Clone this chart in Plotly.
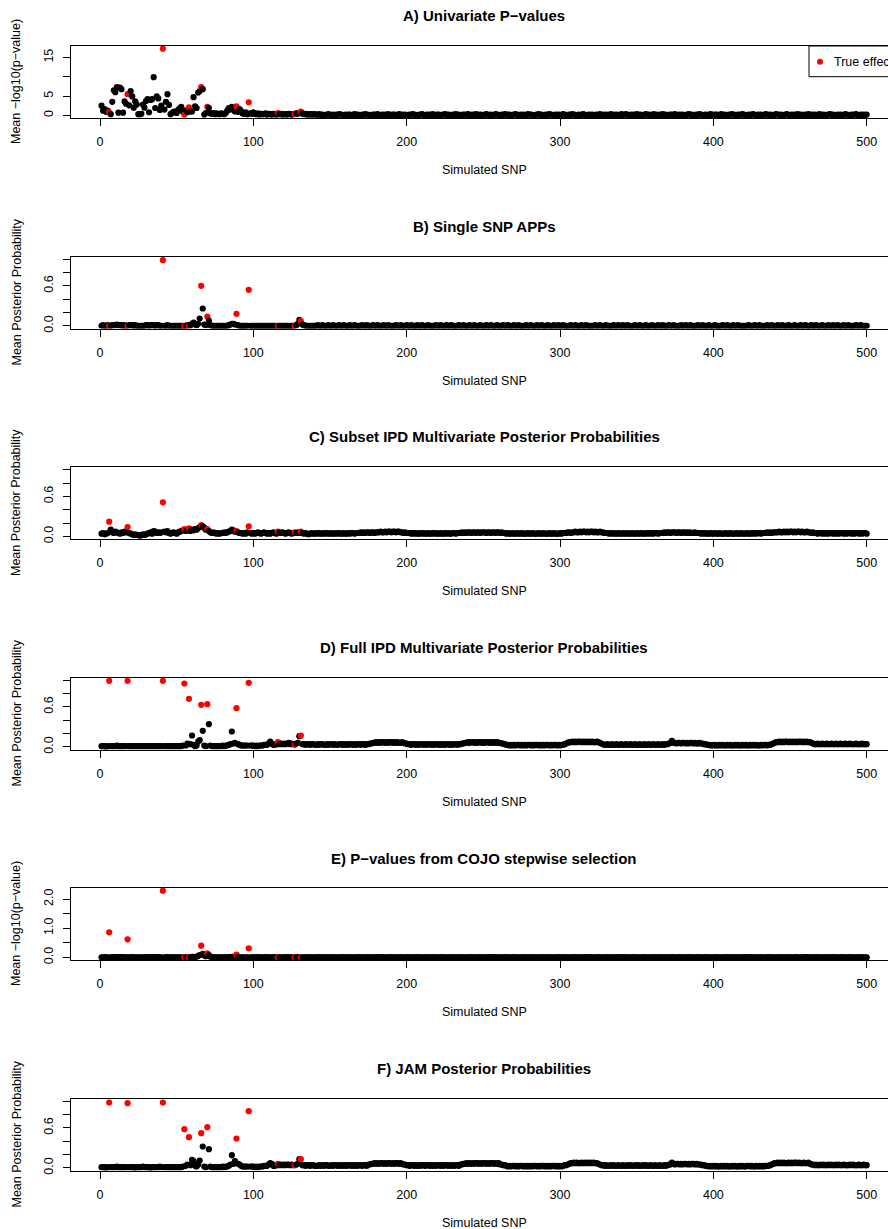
import plotly.graph_objects as go

# ---------------- data ----------------
true_effects = [6, 18, 41, 55, 58, 66, 70, 89, 97, 116, 127, 131]
x_ticks = [0, 100, 200, 300, 400, 500]
x_ticklabels = ["0", "100", "200", "300", "400", "500"]

panel_titles = [
    "A) Univariate P\u2212values",
    "B) Single SNP APPs",
    "C) Subset IPD Multivariate Posterior Probabilities",
    "D) Full IPD Multivariate Posterior Probabilities",
    "E) P\u2212values from COJO stepwise selection",
    "F) JAM Posterior Probabilities",
]
y_titles = [
    "Mean \u2212log10(p\u2212value)",
    "Mean Posterior Probability",
    "Mean Posterior Probability",
    "Mean Posterior Probability",
    "Mean \u2212log10(p\u2212value)",
    "Mean Posterior Probability",
]
y_tickvals = [
    [0, 5, 10, 15],
    [0, 0.2, 0.4, 0.6, 0.8, 1.0],
    [0, 0.2, 0.4, 0.6, 0.8, 1.0],
    [0, 0.2, 0.4, 0.6, 0.8, 1.0],
    [0, 0.5, 1.0, 1.5, 2.0],
    [0, 0.2, 0.4, 0.6, 0.8, 1.0],
]
y_ticktext = [
    ["0", "5", "", "15"],
    ["0.0", "", "", "0.6", "", ""],
    ["0.0", "", "", "0.6", "", ""],
    ["0.0", "", "", "0.6", "", ""],
    ["0.0", "", "1.0", "", "2.0"],
    ["0.0", "", "", "0.6", "", ""],
]

# A) univariate -log10(p), SNP 1-140 and 141-500
a_head = [
    2.5, 1.2, 1.6, 0.9, 1.2, 0.8, 0.3, 3.5, 6.5, 6.0, 7.3, 0.7, 7.2, 6.8, 0.7, 3.6, 3.0, 5.5, 2.6, 6.3,
    4.9, 2.0, 3.6, 2.8, 0.3, 0.3, 0.4, 2.8, 2.0, 3.7, 4.2, 0.8, 4.0, 4.2, 9.9, 1.9, 4.9, 4.4, 1.4, 2.5,
    17.3, 1.5, 3.5, 5.5, 2.7, 0.3, 0.6, 0.9, 1.0, 0.6, 1.4, 1.8, 2.2, 0.9, 0.2, 1.3, 0.8, 2.1, 1.0, 1.0,
    4.7, 2.3, 1.9, 5.9, 6.3, 7.3, 6.8, 0.2, 0.6, 2.2, 1.9, 0.5, 0.4, 0.6, 0.3, 0.5, 0.4, 0.3, 0.5, 0.4,
    0.3, 0.6, 1.2, 1.9, 1.5, 2.2, 1.8, 1.0, 2.3, 0.9, 1.6, 1.1, 0.5, 0.4, 0.8, 0.3, 3.4, 0.5, 0.4, 0.8,
    0.4, 0.3, 0.5, 0.2, 0.4, 0.3, 0.3, 0.5, 0.2, 0.4, 0.3, 0.2, 0.4, 0.3, 0.2, 0.6, 0.3, 0.4, 0.2, 0.3,
    0.3, 0.2, 0.4, 0.3, 0.2, 0.3, 0.4, 0.5, 0.4, 0.6, 1.0, 0.5, 0.3, 0.4, 0.2, 0.3, 0.2, 0.3, 0.2, 0.3,
]
a_tail = [
    0.2, 0.1, 0.3, 0.1, 0.2, 0.0, 0.1, 0.2, 0.3, 0.1, 0.1, 0.2, 0.0, 0.2, 0.1, 0.3, 0.2, 0.1, 0.0, 0.2,
    0.1, 0.2, 0.2, 0.0, 0.1, 0.3, 0.1, 0.2, 0.1, 0.0, 0.2, 0.1, 0.3, 0.2, 0.1, 0.1, 0.0, 0.2, 0.2, 0.1,
    0.3, 0.1, 0.0, 0.2, 0.1, 0.2, 0.1, 0.3, 0.0, 0.1, 0.2, 0.2, 0.1, 0.0, 0.3, 0.1, 0.2, 0.1, 0.2, 0.0,
    0.1, 0.2, 0.1, 0.3, 0.2, 0.0, 0.1, 0.1, 0.2, 0.3, 0.1, 0.0, 0.2, 0.1, 0.2, 0.1, 0.3, 0.0, 0.1, 0.2,
    0.2, 0.0, 0.1, 0.2, 0.3, 0.1, 0.2, 0.1, 0.0, 0.2, 0.1, 0.3, 0.1, 0.2, 0.0, 0.1, 0.2, 0.2, 0.1, 0.3,
    0.1, 0.1, 0.2, 0.0, 0.3, 0.2, 0.1, 0.2, 0.1, 0.0, 0.2, 0.3, 0.1, 0.1, 0.2, 0.0, 0.1, 0.3, 0.2, 0.1,
    0.0, 0.2, 0.1, 0.3, 0.1, 0.2, 0.2, 0.0, 0.1, 0.2, 0.3, 0.1, 0.0, 0.2, 0.1, 0.2, 0.1, 0.0, 0.3, 0.2,
    0.2, 0.1, 0.0, 0.1, 0.2, 0.3, 0.1, 0.2, 0.0, 0.1, 0.2, 0.1, 0.3, 0.2, 0.1, 0.0, 0.2, 0.1, 0.2, 0.1,
    0.1, 0.3, 0.2, 0.0, 0.1, 0.2, 0.1, 0.3, 0.2, 0.1, 0.0, 0.2, 0.1, 0.1, 0.3, 0.2, 0.0, 0.1, 0.2, 0.1,
    0.2, 0.0, 0.1, 0.2, 0.1, 0.3, 0.0, 0.2, 0.1, 0.2, 0.1, 0.0, 0.3, 0.1, 0.2, 0.1, 0.2, 0.0, 0.1, 0.3,
    0.1, 0.2, 0.3, 0.1, 0.0, 0.2, 0.1, 0.2, 0.0, 0.3, 0.1, 0.2, 0.1, 0.0, 0.2, 0.3, 0.1, 0.2, 0.1, 0.0,
    0.3, 0.1, 0.2, 0.0, 0.2, 0.1, 0.3, 0.1, 0.2, 0.0, 0.1, 0.2, 0.2, 0.1, 0.3, 0.0, 0.1, 0.2, 0.1, 0.2,
    0.0, 0.1, 0.2, 0.3, 0.1, 0.2, 0.0, 0.1, 0.2, 0.1, 0.3, 0.2, 0.0, 0.1, 0.2, 0.1, 0.0, 0.3, 0.2, 0.1,
    0.2, 0.2, 0.1, 0.0, 0.3, 0.1, 0.2, 0.1, 0.0, 0.2, 0.1, 0.3, 0.2, 0.1, 0.0, 0.2, 0.1, 0.2, 0.3, 0.1,
    0.1, 0.0, 0.2, 0.1, 0.2, 0.3, 0.1, 0.0, 0.2, 0.1, 0.2, 0.0, 0.1, 0.3, 0.2, 0.1, 0.2, 0.1, 0.0, 0.2,
    0.3, 0.2, 0.1, 0.2, 0.0, 0.1, 0.2, 0.3, 0.1, 0.0, 0.2, 0.1, 0.2, 0.1, 0.3, 0.0, 0.2, 0.1, 0.1, 0.2,
    0.1, 0.3, 0.0, 0.2, 0.1, 0.2, 0.1, 0.0, 0.3, 0.2, 0.1, 0.2, 0.0, 0.1, 0.2, 0.3, 0.1, 0.2, 0.1, 0.0,
    0.2, 0.1, 0.2, 0.0, 0.1, 0.3, 0.2, 0.1, 0.0, 0.2, 0.1, 0.2, 0.3, 0.1, 0.0, 0.2, 0.1, 0.2, 0.1, 0.2,
]

# B) single SNP approximate posterior probabilities
b_head = [
    0.00, 0.01, 0.00, 0.00, 0.01, 0.00, 0.00, 0.01, 0.01, 0.01, 0.02, 0.01, 0.01, 0.01, 0.00, 0.01, 0.00, 0.00, 0.01, 0.01,
    0.01, 0.00, 0.01, 0.00, 0.00, 0.00, 0.00, 0.00, 0.00, 0.01, 0.01, 0.00, 0.01, 0.01, 0.01, 0.00, 0.01, 0.01, 0.00, 0.00,
    0.985, 0.00, 0.00, 0.01, 0.00, 0.00, 0.00, 0.00, 0.00, 0.00, 0.00, 0.00, 0.00, 0.00, 0.00, 0.00, 0.01, 0.00, 0.01, 0.03,
    0.05, 0.02, 0.01, 0.03, 0.11, 0.60, 0.26, 0.02, 0.01, 0.14, 0.08, 0.01, 0.00, 0.00, 0.00, 0.00, 0.00, 0.00, 0.00, 0.00,
    0.00, 0.00, 0.00, 0.01, 0.02, 0.03, 0.03, 0.02, 0.18, 0.01, 0.00, 0.00, 0.00, 0.00, 0.00, 0.00, 0.54, 0.00, 0.00, 0.00,
    0.00, 0.00, 0.00, 0.00, 0.00, 0.00, 0.00, 0.00, 0.00, 0.00, 0.00, 0.00, 0.00, 0.00, 0.00, 0.00, 0.00, 0.00, 0.00, 0.00,
    0.00, 0.00, 0.00, 0.00, 0.00, 0.00, 0.00, 0.01, 0.03, 0.09, 0.07, 0.02, 0.01, 0.00, 0.00, 0.00, 0.00, 0.00, 0.00, 0.00,
]
b_tail = [
    0.00, 0.01, 0.00, 0.00, 0.01, 0.00, 0.00, 0.00, 0.01, 0.00, 0.00, 0.01, 0.00, 0.00, 0.00, 0.01, 0.00, 0.00, 0.01, 0.00,
    0.00, 0.00, 0.01, 0.00, 0.00, 0.01, 0.00, 0.00, 0.00, 0.00, 0.01, 0.00, 0.00, 0.01, 0.00, 0.00, 0.00, 0.01, 0.00, 0.00,
    0.01, 0.00, 0.00, 0.00, 0.01, 0.00, 0.00, 0.01, 0.00, 0.00, 0.00, 0.00, 0.01, 0.00, 0.00, 0.01, 0.00, 0.00, 0.00, 0.01,
    0.00, 0.00, 0.01, 0.00, 0.00, 0.00, 0.01, 0.00, 0.00, 0.01, 0.00, 0.00, 0.00, 0.01, 0.00, 0.00, 0.00, 0.00, 0.01, 0.00,
    0.00, 0.01, 0.00, 0.00, 0.00, 0.01, 0.00, 0.00, 0.01, 0.00, 0.00, 0.00, 0.00, 0.01, 0.00, 0.00, 0.01, 0.00, 0.00, 0.00,
    0.01, 0.00, 0.00, 0.01, 0.00, 0.00, 0.00, 0.01, 0.00, 0.00, 0.00, 0.01, 0.00, 0.00, 0.01, 0.00, 0.00, 0.00, 0.01, 0.00,
    0.00, 0.00, 0.01, 0.00, 0.00, 0.01, 0.00, 0.00, 0.00, 0.01, 0.00, 0.00, 0.01, 0.00, 0.00, 0.00, 0.00, 0.01, 0.00, 0.00,
    0.01, 0.00, 0.00, 0.00, 0.01, 0.00, 0.00, 0.01, 0.00, 0.00, 0.00, 0.01, 0.00, 0.00, 0.00, 0.01, 0.00, 0.00, 0.01, 0.00,
    0.00, 0.01, 0.00, 0.00, 0.00, 0.00, 0.01, 0.00, 0.00, 0.01, 0.00, 0.00, 0.00, 0.01, 0.00, 0.00, 0.01, 0.00, 0.00, 0.00,
    0.00, 0.00, 0.01, 0.00, 0.00, 0.01, 0.00, 0.00, 0.00, 0.01, 0.00, 0.00, 0.00, 0.00, 0.01, 0.00, 0.00, 0.01, 0.00, 0.00,
    0.01, 0.00, 0.00, 0.01, 0.00, 0.00, 0.00, 0.00, 0.01, 0.00, 0.00, 0.01, 0.00, 0.00, 0.00, 0.01, 0.00, 0.00, 0.00, 0.01,
    0.00, 0.00, 0.00, 0.01, 0.00, 0.00, 0.01, 0.00, 0.00, 0.00, 0.01, 0.00, 0.00, 0.01, 0.00, 0.00, 0.00, 0.00, 0.01, 0.00,
    0.00, 0.01, 0.00, 0.00, 0.01, 0.00, 0.00, 0.00, 0.00, 0.01, 0.00, 0.00, 0.01, 0.00, 0.00, 0.00, 0.01, 0.00, 0.00, 0.00,
    0.01, 0.00, 0.00, 0.00, 0.00, 0.01, 0.00, 0.00, 0.01, 0.00, 0.00, 0.00, 0.01, 0.00, 0.00, 0.01, 0.00, 0.00, 0.00, 0.00,
    0.00, 0.00, 0.01, 0.00, 0.00, 0.00, 0.01, 0.00, 0.00, 0.01, 0.00, 0.00, 0.00, 0.00, 0.01, 0.00, 0.00, 0.01, 0.00, 0.00,
    0.00, 0.01, 0.00, 0.00, 0.01, 0.00, 0.00, 0.00, 0.01, 0.00, 0.00, 0.00, 0.01, 0.00, 0.00, 0.00, 0.01, 0.00, 0.00, 0.01,
    0.00, 0.00, 0.00, 0.01, 0.00, 0.00, 0.01, 0.00, 0.00, 0.00, 0.01, 0.00, 0.00, 0.00, 0.01, 0.00, 0.00, 0.01, 0.00, 0.00,
    0.01, 0.00, 0.00, 0.00, 0.01, 0.00, 0.00, 0.01, 0.00, 0.00, 0.00, 0.00, 0.01, 0.00, 0.00, 0.01, 0.00, 0.00, 0.00, 0.00,
]

# C) subset IPD multivariate posterior probabilities
c_head = [
    0.04, 0.05, 0.03, 0.04, 0.05, 0.22, 0.10, 0.06, 0.05, 0.07, 0.06, 0.05, 0.04, 0.06, 0.05, 0.07, 0.06, 0.14, 0.05, 0.04,
    0.03, 0.02, 0.03, 0.02, 0.02, 0.01, 0.02, 0.03, 0.02, 0.03, 0.04, 0.05, 0.06, 0.04, 0.08, 0.07, 0.05, 0.06, 0.05, 0.06,
    0.51, 0.07, 0.06, 0.08, 0.05, 0.04, 0.05, 0.06, 0.05, 0.04, 0.06, 0.07, 0.08, 0.09, 0.11, 0.08, 0.09, 0.12, 0.08, 0.10,
    0.09, 0.11, 0.10, 0.12, 0.14, 0.17, 0.15, 0.13, 0.10, 0.11, 0.08, 0.06, 0.05, 0.06, 0.05, 0.04, 0.05, 0.04, 0.05, 0.05,
    0.06, 0.05, 0.06, 0.07, 0.08, 0.10, 0.09, 0.07, 0.08, 0.06, 0.05, 0.05, 0.04, 0.05, 0.04, 0.06, 0.15, 0.05, 0.04, 0.05,
    0.04, 0.05, 0.06, 0.05, 0.04, 0.05, 0.06, 0.05, 0.04, 0.05, 0.04, 0.05, 0.06, 0.05, 0.04, 0.07, 0.06, 0.05, 0.06, 0.05,
    0.04, 0.05, 0.06, 0.05, 0.04, 0.05, 0.06, 0.05, 0.06, 0.05, 0.07, 0.05, 0.04, 0.05, 0.04, 0.03, 0.04, 0.05, 0.04, 0.04,
]
c_tail = [
    0.05, 0.04, 0.05, 0.04, 0.04, 0.05, 0.04, 0.05, 0.04, 0.04, 0.05, 0.04, 0.04, 0.05, 0.04, 0.05, 0.04, 0.04, 0.05, 0.04,
    0.04, 0.05, 0.04, 0.05, 0.05, 0.04, 0.05, 0.05, 0.05, 0.06, 0.05, 0.06, 0.05, 0.06, 0.06, 0.05, 0.06, 0.06, 0.05, 0.06,
    0.06, 0.06, 0.07, 0.06, 0.06, 0.07, 0.06, 0.07, 0.07, 0.06, 0.07, 0.07, 0.06, 0.07, 0.07, 0.06, 0.06, 0.05, 0.06, 0.05,
    0.05, 0.05, 0.04, 0.05, 0.04, 0.05, 0.04, 0.04, 0.05, 0.04, 0.05, 0.04, 0.04, 0.05, 0.04, 0.04, 0.05, 0.04, 0.05, 0.04,
    0.04, 0.05, 0.04, 0.04, 0.05, 0.04, 0.05, 0.04, 0.04, 0.05, 0.05, 0.04, 0.05, 0.05, 0.05, 0.06, 0.05, 0.06, 0.05, 0.06,
    0.06, 0.05, 0.06, 0.06, 0.05, 0.06, 0.06, 0.05, 0.06, 0.06, 0.06, 0.05, 0.06, 0.06, 0.05, 0.06, 0.06, 0.05, 0.06, 0.06,
    0.05, 0.06, 0.05, 0.05, 0.04, 0.05, 0.04, 0.04, 0.05, 0.04, 0.04, 0.05, 0.04, 0.04, 0.05, 0.04, 0.04, 0.04, 0.05, 0.04,
    0.04, 0.05, 0.04, 0.04, 0.04, 0.05, 0.04, 0.04, 0.05, 0.04, 0.04, 0.04, 0.05, 0.04, 0.04, 0.05, 0.04, 0.04, 0.04, 0.05,
    0.04, 0.05, 0.05, 0.05, 0.06, 0.06, 0.05, 0.06, 0.06, 0.07, 0.06, 0.06, 0.07, 0.06, 0.07, 0.07, 0.06, 0.07, 0.06, 0.07,
    0.07, 0.06, 0.07, 0.06, 0.06, 0.07, 0.06, 0.06, 0.05, 0.05, 0.05, 0.04, 0.05, 0.04, 0.05, 0.04, 0.04, 0.05, 0.04, 0.04,
    0.05, 0.04, 0.04, 0.05, 0.04, 0.04, 0.05, 0.04, 0.04, 0.05, 0.04, 0.04, 0.05, 0.04, 0.04, 0.05, 0.04, 0.05, 0.04, 0.05,
    0.04, 0.05, 0.05, 0.04, 0.05, 0.05, 0.05, 0.06, 0.05, 0.06, 0.06, 0.05, 0.06, 0.06, 0.06, 0.05, 0.06, 0.06, 0.05, 0.06,
    0.06, 0.05, 0.06, 0.05, 0.06, 0.05, 0.05, 0.06, 0.05, 0.05, 0.05, 0.04, 0.05, 0.04, 0.05, 0.04, 0.04, 0.05, 0.04, 0.04,
    0.05, 0.04, 0.04, 0.05, 0.04, 0.04, 0.04, 0.05, 0.04, 0.04, 0.05, 0.04, 0.04, 0.04, 0.05, 0.04, 0.04, 0.05, 0.04, 0.04,
    0.04, 0.05, 0.04, 0.04, 0.05, 0.04, 0.05, 0.04, 0.05, 0.05, 0.04, 0.05, 0.05, 0.05, 0.06, 0.05, 0.06, 0.05, 0.06, 0.06,
    0.06, 0.06, 0.07, 0.06, 0.06, 0.07, 0.06, 0.07, 0.06, 0.07, 0.07, 0.06, 0.07, 0.06, 0.07, 0.07, 0.06, 0.07, 0.06, 0.06,
    0.07, 0.06, 0.06, 0.05, 0.06, 0.05, 0.05, 0.04, 0.05, 0.05, 0.04, 0.05, 0.04, 0.05, 0.04, 0.05, 0.05, 0.04, 0.05, 0.04,
    0.05, 0.04, 0.05, 0.05, 0.04, 0.05, 0.04, 0.05, 0.05, 0.04, 0.05, 0.04, 0.05, 0.05, 0.04, 0.05, 0.04, 0.05, 0.05, 0.04,
]

# D) full IPD multivariate posterior probabilities
d_head = [
    0.01, 0.01, 0.01, 0.00, 0.01, 0.99, 0.01, 0.01, 0.01, 0.01, 0.02, 0.01, 0.01, 0.01, 0.01, 0.01, 0.01, 0.99, 0.01, 0.01,
    0.01, 0.01, 0.01, 0.01, 0.01, 0.01, 0.01, 0.01, 0.01, 0.01, 0.01, 0.01, 0.01, 0.01, 0.01, 0.01, 0.01, 0.01, 0.01, 0.01,
    0.99, 0.01, 0.01, 0.01, 0.01, 0.01, 0.01, 0.01, 0.01, 0.01, 0.01, 0.01, 0.01, 0.02, 0.95, 0.02, 0.05, 0.72, 0.04, 0.17,
    0.03, 0.01, 0.02, 0.08, 0.10, 0.63, 0.24, 0.02, 0.01, 0.64, 0.34, 0.02, 0.01, 0.01, 0.01, 0.01, 0.01, 0.01, 0.01, 0.02,
    0.01, 0.02, 0.02, 0.03, 0.04, 0.23, 0.05, 0.06, 0.58, 0.04, 0.03, 0.02, 0.02, 0.02, 0.02, 0.02, 0.96, 0.02, 0.02, 0.02,
    0.01, 0.02, 0.01, 0.02, 0.02, 0.02, 0.03, 0.03, 0.03, 0.05, 0.08, 0.05, 0.03, 0.03, 0.04, 0.07, 0.04, 0.05, 0.04, 0.05,
    0.04, 0.05, 0.06, 0.04, 0.05, 0.04, 0.03, 0.05, 0.06, 0.16, 0.17, 0.04, 0.04, 0.03, 0.04, 0.04, 0.03, 0.04, 0.04, 0.03,
]
d_tail = [
    0.03, 0.04, 0.03, 0.04, 0.04, 0.03, 0.03, 0.04, 0.03, 0.04, 0.04, 0.03, 0.04, 0.03, 0.03, 0.04, 0.04, 0.03, 0.04, 0.03,
    0.04, 0.03, 0.04, 0.04, 0.03, 0.04, 0.03, 0.04, 0.04, 0.03, 0.04, 0.04, 0.03, 0.04, 0.04, 0.05, 0.05, 0.06, 0.06, 0.07,
    0.06, 0.07, 0.06, 0.07, 0.07, 0.06, 0.07, 0.06, 0.07, 0.07, 0.06, 0.07, 0.06, 0.07, 0.06, 0.06, 0.07, 0.06, 0.05, 0.05,
    0.04, 0.04, 0.03, 0.04, 0.04, 0.03, 0.04, 0.03, 0.04, 0.04, 0.03, 0.04, 0.03, 0.04, 0.04, 0.03, 0.04, 0.03, 0.04, 0.04,
    0.03, 0.04, 0.03, 0.04, 0.03, 0.04, 0.04, 0.03, 0.04, 0.03, 0.04, 0.04, 0.03, 0.04, 0.04, 0.05, 0.05, 0.06, 0.06, 0.07,
    0.06, 0.07, 0.07, 0.06, 0.07, 0.06, 0.07, 0.07, 0.06, 0.07, 0.06, 0.07, 0.07, 0.06, 0.07, 0.06, 0.07, 0.06, 0.07, 0.06,
    0.06, 0.05, 0.05, 0.04, 0.03, 0.03, 0.02, 0.03, 0.02, 0.03, 0.02, 0.03, 0.03, 0.02, 0.03, 0.02, 0.03, 0.02, 0.03, 0.03,
    0.02, 0.03, 0.02, 0.03, 0.03, 0.02, 0.03, 0.02, 0.03, 0.02, 0.03, 0.03, 0.02, 0.03, 0.02, 0.03, 0.03, 0.02, 0.03, 0.02,
    0.03, 0.03, 0.04, 0.05, 0.06, 0.07, 0.07, 0.08, 0.07, 0.08, 0.07, 0.08, 0.08, 0.07, 0.08, 0.07, 0.08, 0.07, 0.08, 0.07,
    0.08, 0.07, 0.07, 0.08, 0.07, 0.06, 0.05, 0.04, 0.03, 0.03, 0.04, 0.03, 0.03, 0.04, 0.03, 0.03, 0.04, 0.03, 0.03, 0.04,
    0.03, 0.03, 0.04, 0.03, 0.03, 0.04, 0.03, 0.03, 0.04, 0.03, 0.03, 0.04, 0.03, 0.03, 0.04, 0.03, 0.03, 0.04, 0.03, 0.03,
    0.04, 0.03, 0.03, 0.04, 0.03, 0.03, 0.04, 0.03, 0.04, 0.04, 0.05, 0.06, 0.09, 0.06, 0.06, 0.05, 0.06, 0.06, 0.05, 0.06,
    0.06, 0.05, 0.06, 0.05, 0.06, 0.06, 0.05, 0.06, 0.05, 0.05, 0.06, 0.05, 0.05, 0.04, 0.04, 0.03, 0.03, 0.02, 0.03, 0.02,
    0.03, 0.02, 0.02, 0.03, 0.02, 0.03, 0.02, 0.02, 0.03, 0.02, 0.03, 0.02, 0.02, 0.03, 0.02, 0.03, 0.02, 0.02, 0.03, 0.02,
    0.03, 0.02, 0.02, 0.03, 0.02, 0.03, 0.02, 0.03, 0.02, 0.02, 0.03, 0.02, 0.03, 0.03, 0.02, 0.03, 0.03, 0.04, 0.05, 0.06,
    0.07, 0.07, 0.08, 0.07, 0.08, 0.07, 0.08, 0.08, 0.07, 0.08, 0.07, 0.08, 0.07, 0.08, 0.07, 0.08, 0.08, 0.07, 0.08, 0.07,
    0.08, 0.07, 0.07, 0.06, 0.05, 0.04, 0.04, 0.05, 0.04, 0.04, 0.05, 0.04, 0.04, 0.05, 0.04, 0.04, 0.05, 0.04, 0.04, 0.05,
    0.04, 0.04, 0.05, 0.04, 0.04, 0.05, 0.04, 0.04, 0.05, 0.04, 0.04, 0.04, 0.05, 0.04, 0.04, 0.04, 0.05, 0.04, 0.04, 0.04,
]

# E) COJO stepwise selection -log10(p)
e_head = [
    0.00, 0.00, 0.01, 0.00, 0.00, 0.86, 0.00, 0.01, 0.01, 0.01, 0.01, 0.00, 0.01, 0.01, 0.00, 0.00, 0.01, 0.62, 0.00, 0.01,
    0.01, 0.00, 0.00, 0.00, 0.00, 0.00, 0.00, 0.00, 0.00, 0.00, 0.01, 0.00, 0.00, 0.01, 0.01, 0.00, 0.00, 0.01, 0.00, 0.00,
    2.29, 0.00, 0.00, 0.01, 0.00, 0.00, 0.00, 0.00, 0.00, 0.00, 0.00, 0.00, 0.00, 0.00, 0.00, 0.00, 0.00, 0.00, 0.00, 0.02,
    0.02, 0.01, 0.02, 0.05, 0.08, 0.40, 0.12, 0.06, 0.04, 0.14, 0.08, 0.02, 0.01, 0.00, 0.00, 0.00, 0.00, 0.00, 0.00, 0.00,
    0.00, 0.00, 0.00, 0.01, 0.01, 0.02, 0.02, 0.01, 0.09, 0.01, 0.00, 0.00, 0.00, 0.00, 0.00, 0.00, 0.31, 0.00, 0.00, 0.00,
    0.00, 0.00, 0.01, 0.00, 0.00, 0.00, 0.00, 0.01, 0.00, 0.00, 0.00, 0.00, 0.00, 0.01, 0.00, 0.00, 0.00, 0.00, 0.00, 0.00,
    0.00, 0.01, 0.00, 0.00, 0.00, 0.00, 0.00, 0.00, 0.01, 0.00, 0.00, 0.00, 0.00, 0.00, 0.01, 0.00, 0.00, 0.00, 0.00, 0.00,
]
e_tail = [
    0.00, 0.00, 0.01, 0.00, 0.00, 0.00, 0.01, 0.00, 0.00, 0.00, 0.00, 0.01, 0.00, 0.00, 0.00, 0.00, 0.00, 0.01, 0.00, 0.00,
    0.00, 0.01, 0.00, 0.00, 0.00, 0.00, 0.00, 0.00, 0.01, 0.00, 0.00, 0.00, 0.00, 0.01, 0.00, 0.00, 0.00, 0.00, 0.00, 0.01,
    0.00, 0.00, 0.00, 0.01, 0.00, 0.00, 0.00, 0.00, 0.01, 0.00, 0.00, 0.00, 0.00, 0.00, 0.00, 0.01, 0.00, 0.00, 0.00, 0.00,
    0.01, 0.00, 0.00, 0.00, 0.00, 0.00, 0.01, 0.00, 0.00, 0.00, 0.00, 0.00, 0.01, 0.00, 0.00, 0.00, 0.00, 0.01, 0.00, 0.00,
    0.00, 0.00, 0.01, 0.00, 0.00, 0.00, 0.00, 0.00, 0.00, 0.01, 0.00, 0.00, 0.00, 0.01, 0.00, 0.00, 0.00, 0.00, 0.00, 0.00,
    0.00, 0.01, 0.00, 0.00, 0.00, 0.00, 0.01, 0.00, 0.00, 0.00, 0.00, 0.00, 0.01, 0.00, 0.00, 0.00, 0.01, 0.00, 0.00, 0.00,
    0.00, 0.00, 0.00, 0.00, 0.01, 0.00, 0.00, 0.00, 0.00, 0.01, 0.00, 0.00, 0.00, 0.00, 0.00, 0.01, 0.00, 0.00, 0.00, 0.00,
    0.01, 0.00, 0.00, 0.00, 0.00, 0.00, 0.00, 0.01, 0.00, 0.00, 0.00, 0.00, 0.01, 0.00, 0.00, 0.00, 0.00, 0.00, 0.01, 0.00,
    0.00, 0.00, 0.01, 0.00, 0.00, 0.00, 0.00, 0.00, 0.01, 0.00, 0.00, 0.00, 0.00, 0.00, 0.00, 0.01, 0.00, 0.00, 0.00, 0.01,
    0.00, 0.00, 0.00, 0.00, 0.01, 0.00, 0.00, 0.00, 0.00, 0.00, 0.01, 0.00, 0.00, 0.00, 0.00, 0.00, 0.00, 0.01, 0.00, 0.00,
    0.00, 0.01, 0.00, 0.00, 0.00, 0.00, 0.00, 0.01, 0.00, 0.00, 0.00, 0.00, 0.00, 0.00, 0.01, 0.00, 0.00, 0.00, 0.00, 0.00,
    0.01, 0.00, 0.00, 0.00, 0.00, 0.01, 0.00, 0.00, 0.00, 0.00, 0.00, 0.00, 0.01, 0.00, 0.00, 0.00, 0.00, 0.01, 0.00, 0.00,
    0.00, 0.00, 0.00, 0.01, 0.00, 0.00, 0.00, 0.00, 0.00, 0.01, 0.00, 0.00, 0.00, 0.00, 0.01, 0.00, 0.00, 0.00, 0.00, 0.00,
    0.00, 0.01, 0.00, 0.00, 0.00, 0.00, 0.00, 0.00, 0.01, 0.00, 0.00, 0.00, 0.01, 0.00, 0.00, 0.00, 0.00, 0.00, 0.00, 0.01,
    0.00, 0.00, 0.00, 0.01, 0.00, 0.00, 0.00, 0.00, 0.00, 0.00, 0.01, 0.00, 0.00, 0.00, 0.00, 0.01, 0.00, 0.00, 0.00, 0.00,
    0.00, 0.00, 0.01, 0.00, 0.00, 0.00, 0.00, 0.01, 0.00, 0.00, 0.00, 0.00, 0.00, 0.01, 0.00, 0.00, 0.00, 0.00, 0.01, 0.00,
    0.01, 0.00, 0.00, 0.00, 0.00, 0.00, 0.01, 0.00, 0.00, 0.00, 0.00, 0.00, 0.00, 0.01, 0.00, 0.00, 0.00, 0.01, 0.00, 0.00,
    0.00, 0.00, 0.00, 0.01, 0.00, 0.00, 0.00, 0.00, 0.01, 0.00, 0.00, 0.00, 0.00, 0.00, 0.01, 0.00, 0.00, 0.00, 0.00, 0.00,
]

# F) JAM posterior probabilities
f_head = [
    0.01, 0.01, 0.01, 0.00, 0.01, 0.98, 0.01, 0.01, 0.01, 0.01, 0.02, 0.01, 0.01, 0.01, 0.01, 0.01, 0.01, 0.97, 0.01, 0.01,
    0.01, 0.01, 0.00, 0.01, 0.01, 0.01, 0.01, 0.02, 0.01, 0.01, 0.01, 0.01, 0.00, 0.01, 0.01, 0.01, 0.01, 0.01, 0.02, 0.01,
    0.98, 0.01, 0.01, 0.01, 0.01, 0.01, 0.01, 0.01, 0.01, 0.01, 0.01, 0.01, 0.01, 0.02, 0.58, 0.03, 0.05, 0.46, 0.04, 0.12,
    0.10, 0.03, 0.02, 0.05, 0.11, 0.52, 0.32, 0.02, 0.01, 0.61, 0.28, 0.02, 0.01, 0.01, 0.01, 0.01, 0.01, 0.01, 0.01, 0.02,
    0.01, 0.02, 0.02, 0.03, 0.05, 0.19, 0.06, 0.10, 0.44, 0.06, 0.05, 0.03, 0.02, 0.02, 0.02, 0.02, 0.85, 0.02, 0.02, 0.02,
    0.01, 0.02, 0.01, 0.02, 0.02, 0.02, 0.03, 0.03, 0.03, 0.05, 0.07, 0.06, 0.03, 0.03, 0.04, 0.06, 0.04, 0.05, 0.04, 0.05,
    0.04, 0.05, 0.05, 0.04, 0.05, 0.04, 0.04, 0.05, 0.06, 0.13, 0.13, 0.04, 0.04, 0.03, 0.04, 0.04, 0.03, 0.04, 0.04, 0.03,
]
f_tail = [
    0.03, 0.03, 0.04, 0.03, 0.04, 0.03, 0.04, 0.04, 0.03, 0.03, 0.04, 0.03, 0.04, 0.04, 0.03, 0.04, 0.03, 0.04, 0.03, 0.04,
    0.03, 0.04, 0.04, 0.03, 0.04, 0.03, 0.04, 0.03, 0.04, 0.04, 0.03, 0.04, 0.04, 0.03, 0.05, 0.05, 0.06, 0.06, 0.07, 0.06,
    0.07, 0.06, 0.07, 0.07, 0.06, 0.07, 0.06, 0.07, 0.07, 0.06, 0.07, 0.06, 0.07, 0.07, 0.06, 0.07, 0.06, 0.05, 0.05, 0.04,
    0.04, 0.03, 0.04, 0.04, 0.03, 0.04, 0.03, 0.04, 0.03, 0.04, 0.04, 0.03, 0.04, 0.04, 0.03, 0.04, 0.03, 0.04, 0.03, 0.04,
    0.04, 0.03, 0.04, 0.03, 0.04, 0.04, 0.03, 0.04, 0.03, 0.04, 0.03, 0.04, 0.04, 0.03, 0.05, 0.05, 0.06, 0.06, 0.07, 0.06,
    0.07, 0.06, 0.07, 0.06, 0.07, 0.07, 0.06, 0.07, 0.06, 0.07, 0.07, 0.06, 0.07, 0.06, 0.07, 0.07, 0.06, 0.07, 0.06, 0.07,
    0.05, 0.05, 0.04, 0.04, 0.03, 0.02, 0.03, 0.02, 0.03, 0.03, 0.02, 0.03, 0.02, 0.03, 0.03, 0.02, 0.03, 0.02, 0.03, 0.02,
    0.03, 0.02, 0.03, 0.03, 0.02, 0.03, 0.02, 0.03, 0.03, 0.02, 0.03, 0.02, 0.03, 0.02, 0.03, 0.03, 0.02, 0.03, 0.02, 0.03,
    0.02, 0.03, 0.04, 0.04, 0.05, 0.06, 0.07, 0.07, 0.08, 0.07, 0.08, 0.07, 0.07, 0.08, 0.07, 0.08, 0.07, 0.08, 0.07, 0.08,
    0.07, 0.08, 0.07, 0.07, 0.06, 0.05, 0.04, 0.04, 0.03, 0.04, 0.03, 0.03, 0.04, 0.03, 0.04, 0.03, 0.03, 0.04, 0.03, 0.03,
    0.04, 0.03, 0.03, 0.04, 0.03, 0.04, 0.03, 0.03, 0.04, 0.03, 0.04, 0.03, 0.03, 0.04, 0.03, 0.04, 0.03, 0.03, 0.04, 0.03,
    0.03, 0.04, 0.03, 0.03, 0.04, 0.03, 0.03, 0.04, 0.03, 0.04, 0.05, 0.05, 0.08, 0.06, 0.05, 0.06, 0.06, 0.05, 0.06, 0.05,
    0.06, 0.06, 0.05, 0.06, 0.05, 0.06, 0.06, 0.05, 0.06, 0.05, 0.05, 0.05, 0.04, 0.04, 0.03, 0.03, 0.02, 0.03, 0.02, 0.03,
    0.02, 0.03, 0.02, 0.02, 0.03, 0.02, 0.03, 0.02, 0.03, 0.02, 0.02, 0.03, 0.02, 0.03, 0.02, 0.02, 0.03, 0.02, 0.03, 0.02,
    0.02, 0.03, 0.03, 0.02, 0.03, 0.02, 0.02, 0.03, 0.02, 0.03, 0.02, 0.03, 0.02, 0.03, 0.03, 0.03, 0.04, 0.05, 0.06, 0.07,
    0.07, 0.08, 0.07, 0.08, 0.07, 0.08, 0.07, 0.07, 0.08, 0.07, 0.08, 0.07, 0.08, 0.08, 0.07, 0.08, 0.07, 0.07, 0.08, 0.07,
    0.07, 0.08, 0.06, 0.05, 0.05, 0.04, 0.05, 0.04, 0.04, 0.05, 0.04, 0.05, 0.04, 0.04, 0.05, 0.04, 0.05, 0.04, 0.04, 0.05,
    0.04, 0.05, 0.04, 0.04, 0.05, 0.04, 0.04, 0.04, 0.05, 0.04, 0.05, 0.04, 0.04, 0.04, 0.05, 0.04, 0.04, 0.05, 0.04, 0.04,
]

panel_values = [
    a_head + a_tail,
    b_head + b_tail,
    c_head + c_tail,
    d_head + d_tail,
    e_head + e_tail,
    f_head + f_tail,
]
# fixed probability scale for the posterior panels, data-driven for p-value panels
fixed_limits = [None, (0.0, 1.0), (0.0, 1.0), (0.0, 1.0), None, (0.0, 1.0)]

# ---------------- layout geometry (pixels) ----------------
W, H = 888, 1229
FONT = "Liberation Sans, Arial, Helvetica, sans-serif"
plot_left_px = 71
x0_px, px_per_unit = 100.0, 766.7 / 500.0
x_range = [(plot_left_px - x0_px) / px_per_unit, (W - x0_px) / px_per_unit]
first_top, step, plot_h = 46.0, 210.5, 72.0
center_x_px = 484.0

def fy(px):
    return 1 - px / H

def fx(px):
    return px / W

fig = go.Figure()
annotations = []
shapes = []

for i, vals in enumerate(panel_values):
    n = i + 1
    xa = "x" if n == 1 else f"x{n}"
    ya = "y" if n == 1 else f"y{n}"
    snp = list(range(1, len(vals) + 1))
    colors = ["red" if s in true_effects else "black" for s in snp]
    fig.add_trace(go.Scatter(
        x=snp, y=vals, mode="markers", xaxis=xa, yaxis=ya,
        marker=dict(size=6.2, color=colors, line=dict(width=0)),
        showlegend=False, name=panel_titles[i], hoverinfo="x+y",
    ))

    lo, hi = fixed_limits[i] if fixed_limits[i] else (min(vals), max(vals))
    pad = 0.04 * (hi - lo)
    yr = [lo - pad, hi + pad]

    top = first_top + step * i
    bot = top + plot_h
    axis_common = dict(
        showgrid=False, zeroline=False, showline=True, linecolor="black", linewidth=1,
        ticks="outside", ticklen=7, tickwidth=1, tickcolor="black",
        tickfont=dict(family=FONT, size=12.5, color="black"), automargin=False,
    )
    fig.layout[f"xaxis{'' if n == 1 else n}"] = dict(
        axis_common, domain=[fx(plot_left_px), 1.0], range=x_range, anchor=ya,
        mirror=True, tickmode="array", tickvals=x_ticks, ticktext=x_ticklabels,
        ticklabelstandoff=5,
    )
    fig.layout[f"yaxis{'' if n == 1 else n}"] = dict(
        axis_common, domain=[fy(bot), fy(top)], range=yr, anchor=xa,
        tickmode="array", tickvals=y_tickvals[i], ticktext=y_ticktext[i],
        tickangle=-90, ticklabelstandoff=5,
    )

    annotations.append(dict(
        text=f"<b>{panel_titles[i]}</b>", xref="paper", yref="paper",
        x=fx(center_x_px), y=fy(top - 30), xanchor="center", yanchor="middle",
        showarrow=False, font=dict(family=FONT, size=15, color="black"),
    ))
    annotations.append(dict(
        text="Simulated SNP", xref="paper", yref="paper",
        x=fx(center_x_px), y=fy(bot + 52), xanchor="center", yanchor="middle",
        showarrow=False, font=dict(family=FONT, size=12.5, color="black"),
    ))
    annotations.append(dict(
        text=y_titles[i], xref="paper", yref="paper", textangle=-90,
        x=fx(16), y=fy((top + bot) / 2), xanchor="center", yanchor="middle",
        showarrow=False, font=dict(family=FONT, size=12.5, color="black"),
    ))

# legend box in panel A (extends beyond the right edge, as in the original)
shapes.append(dict(type="rect", xref="paper", yref="paper",
                   x0=fx(809), x1=fx(940), y0=fy(76.7), y1=fy(first_top),
                   line=dict(color="black", width=1), fillcolor="white", layer="above"))
shapes.append(dict(type="circle", xref="paper", yref="paper",
                   x0=fx(817), x1=fx(823), y0=fy(64.7), y1=fy(58.7),
                   line=dict(width=0), fillcolor="red", layer="above"))
annotations.append(dict(
    text="True effect", xref="paper", yref="paper",
    x=fx(832), y=fy(61.7), xanchor="left", yanchor="middle",
    showarrow=False, font=dict(family=FONT, size=12.5, color="black"),
))

fig.update_layout(
    width=W, height=H, autosize=False,
    margin=dict(l=0, r=0, t=0, b=0),
    paper_bgcolor="white", plot_bgcolor="white",
    annotations=annotations, shapes=shapes,
    font=dict(family=FONT, color="black"),
)

# remove the default page margin so the figure fills the 888x1229 window exactly
fig.write_html(
    "out.html",
    config={"displayModeBar": False},
    post_script="document.body.style.margin='0';document.body.style.overflow='hidden';",
)
